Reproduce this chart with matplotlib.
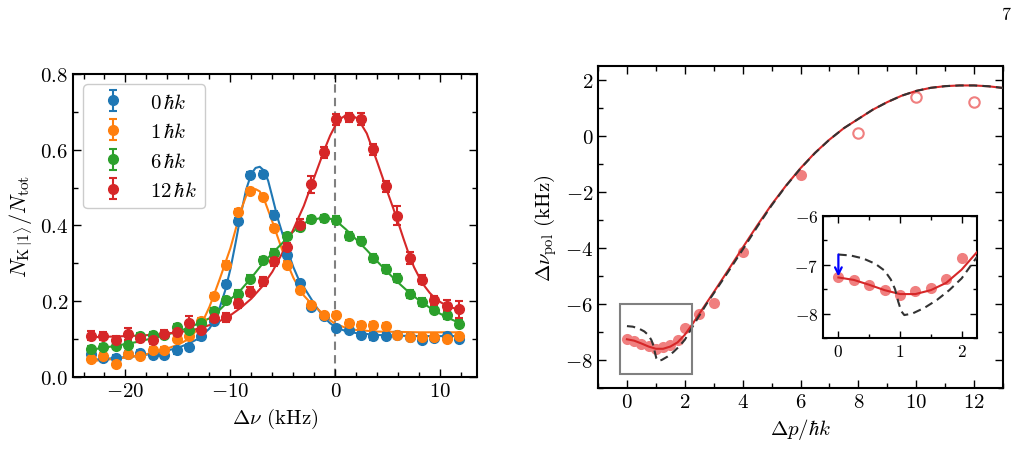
import matplotlib
matplotlib.use("Agg")
import matplotlib.pyplot as plt
from matplotlib.patches import Rectangle
from matplotlib.ticker import MultipleLocator

plt.rcParams.update({
    "font.family": "serif",
    "font.serif": ["cmr10"],
    "mathtext.fontset": "cm",
    "axes.formatter.use_mathtext": True,
    "font.size": 15,
    "axes.unicode_minus": True,
})

# ---- left panel: spectra ----
det = [-23.3, -22.1, -20.9, -19.8, -18.6, -17.4, -16.3, -15.1, -13.9, -12.8, -11.6,
       -10.4, -9.3, -8.1, -6.9, -5.8, -4.6, -3.4, -2.3, -1.1, 0.1, 1.3, 2.4, 3.6,
       4.8, 5.9, 7.1, 8.3, 9.4, 10.6, 11.8]

blue_y = [0.062, 0.050, 0.050, 0.060, 0.063, 0.058, 0.059, 0.070, 0.078, 0.107, 0.147,
          0.245, 0.413, 0.533, 0.536, 0.429, 0.323, 0.248, 0.186, 0.160, 0.129, 0.124,
          0.111, 0.107, 0.109, 0.111, 0.105, 0.099, 0.102, 0.107, 0.100]
orange_y = [0.048, 0.055, 0.035, 0.060, 0.055, 0.072, 0.071, 0.101, 0.107, 0.147, 0.214,
            0.297, 0.435, 0.490, 0.475, 0.393, 0.297, 0.229, 0.191, 0.164, 0.163, 0.142,
            0.136, 0.136, 0.134, 0.112, 0.105, 0.105, 0.105, 0.101, 0.108]
green_y = [0.074, 0.078, 0.083, 0.085, 0.108, 0.111, 0.111, 0.132, 0.124, 0.143, 0.173,
           0.202, 0.220, 0.260, 0.308, 0.328, 0.371, 0.395, 0.416, 0.419, 0.415, 0.373,
           0.360, 0.314, 0.285, 0.262, 0.219, 0.198, 0.178, 0.163, 0.141]
red_y = [0.109, 0.108, 0.097, 0.113, 0.102, 0.097, 0.114, 0.120, 0.143, 0.124, 0.155,
         0.158, 0.195, 0.225, 0.253, 0.306, 0.343, 0.402, 0.509, 0.593, 0.680, 0.686,
         0.681, 0.601, 0.503, 0.426, 0.314, 0.257, 0.202, 0.188, 0.179]

blue_err = [0.008] * 31
orange_err = [0.008] * 31
green_err = [0.008] * 10 + [0.01] * 21
red_err = [0.012, 0.010, 0.010, 0.016, 0.010, 0.010, 0.010, 0.010, 0.018, 0.010, 0.010,
           0.012, 0.012, 0.012, 0.012, 0.012, 0.012, 0.015, 0.022, 0.015, 0.015, 0.012,
           0.015, 0.015, 0.015, 0.025, 0.015, 0.012, 0.012, 0.015, 0.022]

blue_fx = [-23.3, -21, -19, -17, -15, -14, -13, -12, -11.5, -11, -10.5, -10, -9.5, -9,
           -8.5, -8, -7.6, -7.2, -6.8, -6.4, -6, -5.5, -5, -4.5, -4, -3.5, -3, -2.5,
           -2, -1.5, -1, -0.5, 0, 1, 2, 4, 6, 8, 10, 11.8]
blue_fy = [0.045, 0.050, 0.055, 0.063, 0.077, 0.088, 0.102, 0.128, 0.150, 0.185, 0.228,
           0.285, 0.355, 0.430, 0.495, 0.537, 0.552, 0.555, 0.545, 0.518, 0.475, 0.420,
           0.375, 0.330, 0.290, 0.258, 0.237, 0.215, 0.193, 0.173, 0.156, 0.142, 0.132,
           0.121, 0.116, 0.111, 0.109, 0.108, 0.108, 0.108]
orange_fx = [-23.3, -21, -19, -17, -15, -14, -13, -12.5, -12, -11.5, -11, -10.5, -10,
             -9.5, -9, -8.5, -8, -7.6, -7.2, -6.8, -6.4, -6, -5.5, -5, -4.5, -4, -3.5,
             -3, -2.5, -2, -1.5, -1, -0.5, 0, 1, 2, 4, 6, 8, 10, 11.8]
orange_fy = [0.042, 0.048, 0.055, 0.066, 0.085, 0.100, 0.130, 0.155, 0.185, 0.222,
             0.260, 0.300, 0.340, 0.390, 0.440, 0.478, 0.493, 0.496, 0.490, 0.470,
             0.440, 0.410, 0.370, 0.330, 0.295, 0.262, 0.237, 0.215, 0.200, 0.188,
             0.175, 0.162, 0.150, 0.140, 0.130, 0.124, 0.120, 0.119, 0.118, 0.118, 0.118]
green_fx = [-23.3, -21, -19, -17, -15, -14, -13, -12, -11, -10, -9, -8, -7, -6, -5,
            -4.5, -3.5, -2.5, -1.5, -0.5, 0, 0.5, 1, 2, 3, 4, 5, 6, 7, 8, 9, 10, 11, 11.8]
green_fy = [0.072, 0.082, 0.092, 0.105, 0.120, 0.130, 0.142, 0.155, 0.178, 0.205,
            0.230, 0.262, 0.297, 0.327, 0.355, 0.371, 0.397, 0.413, 0.419, 0.418,
            0.413, 0.402, 0.390, 0.363, 0.335, 0.305, 0.276, 0.249, 0.224, 0.202,
            0.183, 0.167, 0.153, 0.143]
red_fx = [-23.3, -21, -19, -17, -15, -14, -13, -12, -11, -10, -9, -8, -7, -6, -5, -4,
          -3, -2, -1, -0.5, 0, 0.5, 1, 1.5, 2, 2.5, 3, 3.5, 4, 4.5, 5, 5.5, 6, 6.5, 7,
          7.5, 8, 8.5, 9, 9.5, 10, 10.5, 11, 11.8]
red_fy = [0.105, 0.107, 0.109, 0.112, 0.118, 0.122, 0.128, 0.137, 0.148, 0.163, 0.183,
          0.207, 0.238, 0.278, 0.330, 0.390, 0.452, 0.528, 0.603, 0.637, 0.664, 0.682,
          0.691, 0.692, 0.684, 0.666, 0.643, 0.605, 0.567, 0.527, 0.486, 0.447, 0.407,
          0.365, 0.325, 0.290, 0.263, 0.240, 0.222, 0.208, 0.198, 0.190, 0.184, 0.178]

labels = [r"$0\,\hbar k$", r"$1\,\hbar k$", r"$6\,\hbar k$", r"$12\,\hbar k$"]
colors = ["#1f77b4", "#ff7f0e", "#2ca02c", "#d62728"]

# ---- right panel: polaron shift ----
mom_fill = [0, 0.25, 0.5, 0.75, 1.0, 1.25, 1.5, 1.75, 2.0, 2.5, 3.0, 4.0, 6.0]
shift_fill = [-7.26, -7.31, -7.42, -7.51, -7.62, -7.53, -7.47, -7.29, -6.87, -6.36,
              -5.96, -4.15, -1.38]
mom_open = [8, 10, 12]
shift_open = [0.10, 1.40, 1.20]

model_x = [0, 0.25, 0.5, 0.75, 1.0, 1.25, 1.5, 1.75, 2.0, 2.25, 2.5, 3.0, 3.5, 4.0,
           4.5, 5.0, 5.5, 6.0, 6.5, 7.0, 7.5, 8.0, 8.5, 9.0, 9.5, 10.0, 10.5, 11.0,
           11.5, 12.0, 12.5, 13.0]
model_y = [-7.26, -7.31, -7.41, -7.52, -7.60, -7.60, -7.52, -7.37, -7.10, -6.74, -6.35,
           -5.58, -4.79, -3.99, -3.20, -2.45, -1.77, -1.15, -0.60, -0.13, 0.28, 0.61,
           0.94, 1.21, 1.44, 1.61, 1.72, 1.78, 1.805, 1.805, 1.775, 1.715]
bare_x = [0, 0.2, 0.4, 0.6, 0.75, 0.85, 0.92, 0.97, 1.02, 1.07, 1.2, 1.4, 1.6, 1.8,
          2.0, 2.25, 2.5, 2.75, 3.0, 3.5, 4.0, 4.5, 5.0, 5.5, 6.0, 6.5, 7.0, 7.5, 8.0,
          8.5, 9.0, 9.5, 10.0, 10.5, 11.0, 11.5, 12.0, 12.5, 13.0]
bare_y = [-6.79, -6.81, -6.87, -6.98, -7.12, -7.30, -7.50, -7.75, -7.95, -8.03, -8.00,
          -7.88, -7.72, -7.52, -7.28, -6.84, -6.42, -6.00, -5.62, -4.85, -4.06, -3.25,
          -2.48, -1.78, -1.16, -0.61, -0.13, 0.28, 0.61, 0.94, 1.21, 1.44, 1.61, 1.72,
          1.78, 1.805, 1.805, 1.775, 1.715]

pt_color = "#f07f7f"
line_red = "#d62728"
dash_col = "#333333"


def style_ticks(ax, maj_len=6, min_len=3.5):
    ax.tick_params(which="both", direction="in", top=True, right=True, width=1.0)
    ax.tick_params(which="major", length=maj_len)
    ax.tick_params(which="minor", length=min_len)
    for sp in ax.spines.values():
        sp.set_linewidth(1.5)


fig = plt.figure(figsize=(10.24, 4.52), dpi=100)

ax1 = fig.add_axes([0.0713, 0.1637, 0.3945, 0.6704])
ax1.axvline(0, color="#808080", ls=(0, (4, 2.5)), lw=1.5, zorder=1)
series = [(blue_y, blue_err, blue_fx, blue_fy), (orange_y, orange_err, orange_fx, orange_fy),
          (green_y, green_err, green_fx, green_fy), (red_y, red_err, red_fx, red_fy)]
for (yy, ee, fx, fy), c, lab in zip(series, colors, labels):
    ax1.errorbar(det, yy, yerr=ee, fmt="o", color=c, ms=7, elinewidth=1.5,
                 capsize=3, capthick=1.5, label=lab, zorder=3)
    ax1.plot(fx, fy, color=c, lw=1.5, zorder=2)
ax1.set_xlim(-25, 13.5)
ax1.set_ylim(0, 0.8)
ax1.xaxis.set_major_locator(MultipleLocator(10))
ax1.xaxis.set_minor_locator(MultipleLocator(2))
ax1.yaxis.set_major_locator(MultipleLocator(0.2))
ax1.yaxis.set_minor_locator(MultipleLocator(0.1))
ax1.yaxis.set_major_formatter(matplotlib.ticker.FormatStrFormatter("$%.1f$"))
style_ticks(ax1)
ax1.set_xlabel(r"$\Delta\nu$ (kHz)")
ax1.set_ylabel(r"$N_{\mathrm{K}\,|1\rangle}/N_{\mathrm{tot}}$", fontsize=16)
leg = ax1.legend(loc="upper left", handletextpad=0.8, borderaxespad=0.5,
                 fancybox=True, framealpha=1.0, edgecolor="#cccccc")

ax2 = fig.add_axes([0.584, 0.1394, 0.3955, 0.7124])
ax2.plot(mom_fill, shift_fill, "o", color=pt_color, ms=8, mec="none", zorder=2)
ax2.plot(mom_open, shift_open, "o", mfc="none", mec=pt_color, ms=7.5, mew=1.5, zorder=2)
ax2.plot(model_x, model_y, color=line_red, lw=1.5, zorder=3)
ax2.plot(bare_x, bare_y, color=dash_col, lw=1.5, ls=(0, (4, 2.5)), zorder=4)
ax2.add_patch(Rectangle((-0.25, -8.5), 2.5, 2.5, fill=False, ec="#808080", lw=1.5, zorder=5))
ax2.set_xlim(-1, 13)
ax2.set_ylim(-9, 2.5)
ax2.xaxis.set_major_locator(MultipleLocator(2))
ax2.xaxis.set_minor_locator(MultipleLocator(1))
ax2.yaxis.set_major_locator(MultipleLocator(2))
ax2.yaxis.set_minor_locator(MultipleLocator(1))
style_ticks(ax2)
ax2.set_xlabel(r"$\Delta p/\hbar k$")
ax2.set_ylabel(r"$\Delta\nu_{\mathrm{pol}}$ (kHz)")

ax3 = fig.add_axes([0.8037, 0.25, 0.1504, 0.27])
ax3.plot(mom_fill, shift_fill, "o", color=pt_color, ms=8, mec="none", zorder=2)
ax3.plot(model_x, model_y, color=line_red, lw=1.5, zorder=3)
ax3.plot(bare_x, bare_y, color=dash_col, lw=1.5, ls=(0, (4, 2.5)), zorder=4)
ax3.annotate("", xy=(0, -7.24), xytext=(0, -6.79),
             arrowprops=dict(arrowstyle="->", color="blue", lw=1.6,
                             shrinkA=0, shrinkB=0, mutation_scale=12), zorder=6)
ax3.set_xlim(-0.25, 2.25)
ax3.set_ylim(-8.5, -6)
ax3.xaxis.set_major_locator(MultipleLocator(1))
ax3.xaxis.set_minor_locator(MultipleLocator(0.5))
ax3.yaxis.set_major_locator(MultipleLocator(1))
ax3.yaxis.set_minor_locator(MultipleLocator(0.5))
style_ticks(ax3, 5, 3)
ax3.tick_params(labelsize=12.5)

fig.text(0.983, 0.955, "7", fontsize=13, ha="center")

fig.savefig("out.png", dpi=100)
